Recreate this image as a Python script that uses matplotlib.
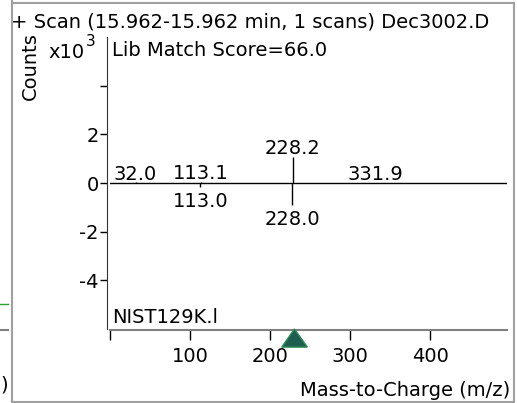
import matplotlib
matplotlib.use('Agg')
import matplotlib.pyplot as plt
from matplotlib.lines import Line2D
from matplotlib.patches import Polygon
import matplotlib.transforms as mtransforms

# sample spectrum (upper, x10^3 counts)
sample_mz = [32.0, 113.1, 228.2, 331.9]
sample_int = [0.03, 0.05, 1.07, 0.02]
# library spectrum (lower, mirrored)
lib_mz = [113.0, 228.0]
lib_int = [-0.15, -0.9]

y_ticks = [-4, -2, 0, 2, 4]
y_labels = ['-4', '-2', '0', '2', '']
x_ticks = [0, 100, 200, 300, 400]
x_labels = ['', '100', '200', '300', '400']

W, H = 517, 403
fig = plt.figure(figsize=(W / 100, H / 100), dpi=100)
plt.rcParams['font.family'] = 'DejaVu Sans'
fs = 14


def px(x, y):
    return x / W, 1 - y / H


# axes box in pixels: left 110, right 507, top 37, bottom 329
ax = fig.add_axes([110 / W, 1 - 329 / H, 397 / W, 292 / H])
ax.set_xlim(0, 496)
ax.set_ylim(-6, 6)

ax.axhline(0, color='black', lw=1)
ax.vlines(sample_mz, 0, sample_int, color='black', lw=1)
ax.vlines(lib_mz, 0, lib_int, color='black', lw=1)

# peak labels
for mz, v in zip(sample_mz, sample_int):
    ax.annotate(f'{mz:.1f}', (mz, v), xytext=(0, -1), textcoords='offset points',
                ha='center', va='bottom', fontsize=fs)
for mz, v in zip(lib_mz, lib_int):
    ax.annotate(f'{mz:.1f}', (mz, v), xytext=(0, -4), textcoords='offset points',
                ha='center', va='top', fontsize=fs)

for s in ['top', 'right']:
    ax.spines[s].set_visible(False)
ax.spines['left'].set_position(('outward', 2))
ax.spines['bottom'].set_position(('outward', 1))
ax.spines['bottom'].set_color('#808080')
ax.spines['bottom'].set_linewidth(1.5)
ax.spines['left'].set_color('#333333')

ax.set_yticks(y_ticks)
ax.set_yticklabels(y_labels, fontsize=fs)
ax.set_xticks(x_ticks)
ax.set_xticklabels(x_labels, fontsize=fs)
ax.tick_params(axis='y', length=5, width=1, pad=1, colors='black')
ax.tick_params(axis='x', length=7, width=1, pad=5, colors='black')

# precursor marker
trans = mtransforms.blended_transform_factory(ax.transData, ax.transAxes)
tri = Polygon([(214.6, -0.062), (246.6, -0.062), (230.4, 0.0)], closed=True,
              transform=trans, facecolor='#1e5e50', edgecolor='#2e8b57',
              lw=1, clip_on=False, zorder=5)
ax.add_patch(tri)

ax.text(0.005, 0.988, 'Lib Match Score=66.0', transform=ax.transAxes,
        ha='left', va='top', fontsize=fs)
ax.text(0.005, 0.008, 'NIST129K.l', transform=ax.transAxes,
        ha='left', va='bottom', fontsize=fs)

# figure-level texts
fig.text(*px(11, 22), '+ Scan (15.962-15.962 min, 1 scans) Dec3002.D',
         ha='left', va='center', fontsize=fs)
fig.text(*px(30, 66), 'Counts', rotation=90, ha='center', va='center', fontsize=fs)
fig.text(*px(48, 52), 'x10', ha='left', va='center', fontsize=fs)
fig.text(*px(86, 42), '3', ha='left', va='center', fontsize=fs * 0.8)
fig.text(*px(510, 390), 'Mass-to-Charge (m/z)', ha='right', va='center', fontsize=fs)
fig.text(*px(0, 385), ')', ha='left', va='center', fontsize=fs)

# panel frame and neighbouring fragments
gray = '#a0a0a0'
frame = [
    ([11.5, 11.5], [0, 403]),
    ([11.5, 513.5], [3, 3]),
    ([513.5, 513.5], [3, 401]),
    ([11.5, 513.5], [401.5, 401.5]),
]
for xs, ys in frame:
    fig.add_artist(Line2D([x / W for x in xs], [1 - y / H for y in ys],
                          color=gray, lw=1.5))
fig.add_artist(Line2D([0, 8 / W], [1 - 304 / H] * 2, color='#2ca02c', lw=1))
fig.add_artist(Line2D([0, 8 / W], [1 - 330 / H] * 2, color='#808080', lw=1.5))

fig.savefig('out.png', dpi=100)
